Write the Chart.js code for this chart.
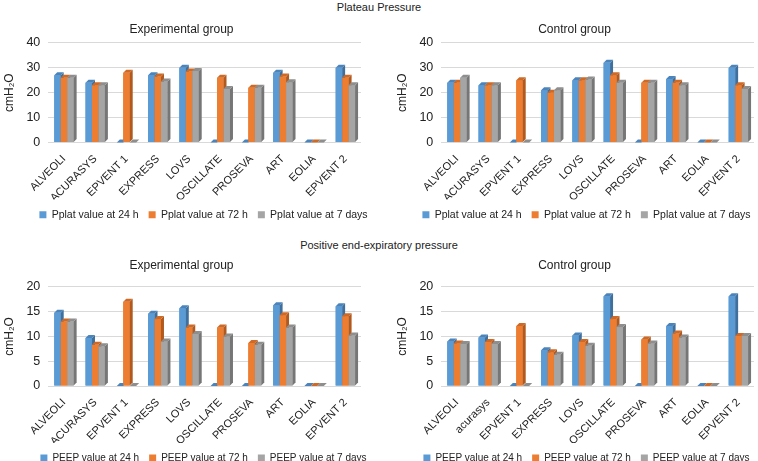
<!DOCTYPE html>
<html>
<head>
<meta charset="utf-8">
<script src="https://cdn.jsdelivr.net/npm/chart.js@4.4.1/dist/chart.umd.min.js"></script>
<style>
  html, body { margin: 0; background: #fff; overflow: hidden; font-family: "Liberation Sans", Arial, sans-serif; }
  #wrap { position: relative; width: 758px; height: 461px; }
  .heading { position: absolute; left: 0; width: 758px; text-align: center; font-size: 11px; color: #222; }
  .box { position: absolute; width: 379px; }
</style>
</head>
<body>
<div id="wrap">
  <div class="heading" style="top:1px">Plateau Pressure</div>
  <div class="box" style="left:0;top:16px;height:214px"><canvas id="pplatExp"></canvas></div>
  <div class="box" style="left:379px;top:16px;height:214px"><canvas id="pplatCtrl"></canvas></div>
  <div class="heading" style="top:239px">Positive end-expiratory pressure</div>
  <div class="box" style="left:0;top:253px;height:220px"><canvas id="peepExp"></canvas></div>
  <div class="box" style="left:379px;top:253px;height:220px"><canvas id="peepCtrl"></canvas></div>
</div>
<script>
const categories = ['ALVEOLI', 'ACURASYS', 'EPVENT 1', 'EXPRESS', 'LOVS', 'OSCILLATE', 'PROSEVA', 'ART', 'EOLIA', 'EPVENT 2'];
const categoriesPeepCtrl = ['ALVEOLI', 'acurasys', 'EPVENT 1', 'EXPRESS', 'LOVS', 'OSCILLATE', 'PROSEVA', 'ART', 'EOLIA', 'EPVENT 2'];

const pplatLabels = ['Pplat value at 24 h', 'Pplat value at 72 h', 'Pplat value at 7 days'];
const peepLabels = ['PEEP value at 24 h', 'PEEP value at 72 h', 'PEEP value at 7 days'];

const pplatExp24 = [27, 24, 0, 27, 30, 0, 0, 28, 0, 30];
const pplatExp72 = [26, 23, 28, 26.5, 28.5, 26, 22, 26.5, 0, 26];
const pplatExp7d = [26, 23, 0, 24.5, 28.7, 21.5, 22, 24.2, 0, 23];

const pplatCtrl24 = [24, 23, 0, 21, 25, 32, 0, 25.5, 0, 30];
const pplatCtrl72 = [24, 23, 25, 20, 25, 27, 24, 24, 0, 23];
const pplatCtrl7d = [26, 23, 0, 21, 25.3, 24, 24, 23, 0, 21.5];

const peepExp24 = [14.8, 9.7, 0, 14.6, 15.7, 0, 0, 16.3, 0, 16.1];
const peepExp72 = [13, 8.3, 17, 13.5, 11.8, 11.8, 8.7, 14.3, 0, 14.1];
const peepExp7d = [13, 8, 0, 9, 10.5, 10, 8.3, 11.8, 0, 10.2];

const peepCtrl24 = [9, 9.8, 0, 7.2, 10.2, 18.1, 0, 12.1, 0, 18.1];
const peepCtrl72 = [8.6, 8.9, 12.1, 6.8, 8.9, 13.5, 9.4, 10.6, 0, 10.1];
const peepCtrl7d = [8.5, 8.5, 0, 6.3, 8.1, 11.9, 8.6, 9.8, 0, 10.1];

const pplatTicks = [0, 10, 20, 30, 40];
const peepTicks = [0, 5, 10, 15, 20];

const fronts = ['#5b9bd5', '#ed7d31', '#a5a5a5'];
const sides = ['#3f6f9c', '#b05a20', '#767676'];
const tops = ['#4a84bb', '#cf6a26', '#8e8e8e'];

// fake the excel 3d look: redraw each bar left to right with a side + top face
const bar3d = {
  id: 'bar3d',
  afterLayout(chart, args, opts) {
    // legend in the original sits a bit right of centre
    chart.legend.left += opts.shift;
    chart.legend.right += opts.shift;
  },
  afterDatasetsDraw(chart) {
    const ctx = chart.ctx;
    const d = 3;
    ctx.save();
    chart.data.datasets.forEach((ds, i) => {
      const meta = chart.getDatasetMeta(i);
      meta.data.forEach(bar => {
        const p = bar.getProps(['x', 'y', 'base', 'width'], true);
        const l = p.x - p.width / 2, r = p.x + p.width / 2;
        ctx.fillStyle = fronts[i];
        ctx.fillRect(l, p.y, p.width, p.base - p.y);
        ctx.fillStyle = sides[i];
        ctx.beginPath();
        ctx.moveTo(r, p.y);
        ctx.lineTo(r + d, p.y - d);
        ctx.lineTo(r + d, p.base - d);
        ctx.lineTo(r, p.base);
        ctx.closePath();
        ctx.fill();
        ctx.fillStyle = tops[i];
        ctx.beginPath();
        ctx.moveTo(l, p.y);
        ctx.lineTo(l + d, p.y - d);
        ctx.lineTo(r + d, p.y - d);
        ctx.lineTo(r, p.y);
        ctx.closePath();
        ctx.fill();
      });
    });
    ctx.restore();
  }
};

function makeChart(id, title, cats, labels, series, ticks, pad, titlePad, legendSize, shift) {
  new Chart(document.getElementById(id), {
    type: 'bar',
    data: {
      labels: cats,
      datasets: series.map((s, i) => ({
        label: labels[i],
        data: s,
        backgroundColor: fronts[i],
        barPercentage: 1.0,
        categoryPercentage: 0.62
      }))
    },
    options: {
      responsive: true,
      maintainAspectRatio: false,
      animation: false,
      layout: { padding: pad },
      plugins: {
        bar3d: { shift: shift },
        title: {
          display: true, text: title, color: '#222',
          font: { family: 'Liberation Sans', size: 12, weight: 'normal' },
          padding: titlePad
        },
        legend: {
          position: 'bottom',
          labels: {
            boxWidth: 7, boxHeight: 7, padding: 10, color: '#222',
            font: { family: 'Liberation Sans', size: legendSize }
          }
        },
        tooltip: { enabled: false }
      },
      scales: {
        x: {
          grid: { display: false },
          border: { display: false },
          afterFit: axis => { axis.height = 57; },
          ticks: {
            minRotation: 45, maxRotation: 45, color: '#222', padding: 2,
            font: { family: 'Liberation Sans', size: 11 }
          }
        },
        y: {
          min: ticks[0], max: ticks[ticks.length - 1],
          afterBuildTicks: axis => { axis.ticks = ticks.map(v => ({ value: v })); },
          grid: { color: '#d9d9d9', drawTicks: false },
          border: { display: false },
          ticks: {
            color: '#222', padding: 8,
            font: { family: 'Liberation Sans', size: 12.5 }
          },
          title: {
            display: true, text: 'cmH₂O', color: '#222',
            font: { family: 'Liberation Sans', size: 12 },
            padding: { top: 0, bottom: 2 }
          }
        }
      }
    },
    plugins: [bar3d]
  });
}

const padLeft = { left: 2, right: 18, top: 0, bottom: 0 };
const padRight = { left: 16, right: 4, top: 0, bottom: 0 };

makeChart('pplatExp', 'Experimental group', categories, pplatLabels,
  [pplatExp24, pplatExp72, pplatExp7d], pplatTicks, padLeft, { top: 6, bottom: 6.5 }, 10.5, 22);
makeChart('pplatCtrl', 'Control group', categories, pplatLabels,
  [pplatCtrl24, pplatCtrl72, pplatCtrl7d], pplatTicks, padRight, { top: 6, bottom: 6.5 }, 10.5, 12);
makeChart('peepExp', 'Experimental group', categories, peepLabels,
  [peepExp24, peepExp72, peepExp7d], peepTicks, padLeft, { top: 5, bottom: 14.5 }, 10, 22);
makeChart('peepCtrl', 'Control group', categoriesPeepCtrl, peepLabels,
  [peepCtrl24, peepCtrl72, peepCtrl7d], peepTicks, padRight, { top: 5, bottom: 14.5 }, 10, 12);
</script>
</body>
</html>
